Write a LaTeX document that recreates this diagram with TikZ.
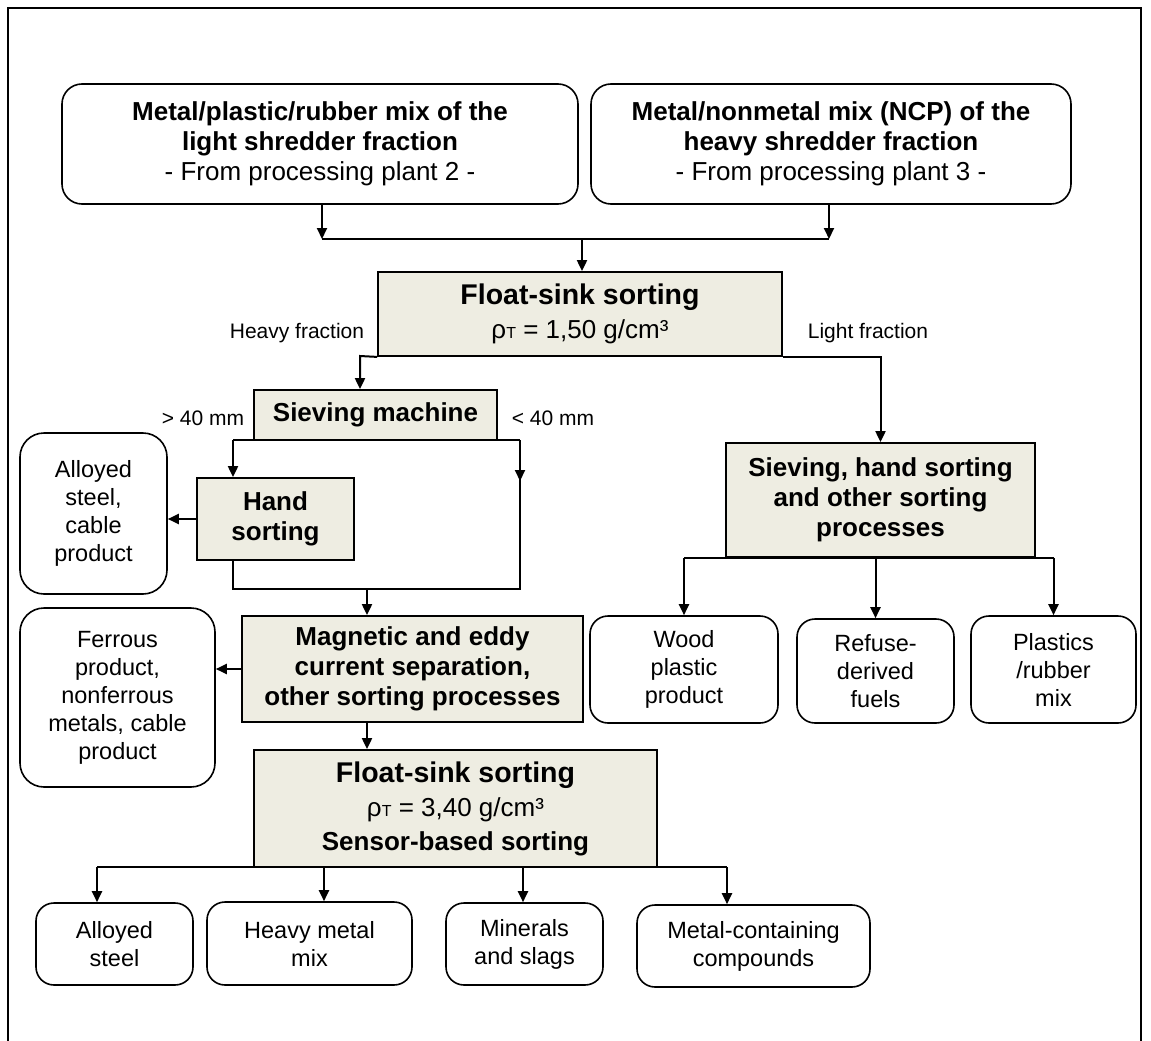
\documentclass[tikz,border=0pt]{standalone}
\usepackage{fontspec}
\setmainfont{Liberation Sans}
\usetikzlibrary{arrows.meta, positioning}

\definecolor{sortfill}{RGB}{238,237,226}

\tikzset{
  procbox/.style={draw=black, line width=1.8pt, fill=sortfill, align=center, inner sep=0pt, font=\fontsize{26}{30}\selectfont\bfseries},
  prodbox/.style={draw=black, line width=1.6pt, rounded corners=18pt, align=center, inner sep=0pt, font=\fontsize{23.5}{28}\selectfont},
  srcbox/.style={prodbox, rounded corners=20pt, font=\fontsize{26}{30}\selectfont},
  flowlabel/.style={font=\fontsize{21}{24}\selectfont, inner sep=0pt},
  flow/.style={line width=2pt, -{Triangle[length=11pt,width=10pt]}},
  flowline/.style={line width=2pt},
}
\newcommand{\rhoT}{ρ{\fontsize{16}{16}\selectfont T}}
\newcommand{\titlefont}{\fontsize{28.5}{34}\selectfont\bfseries}

\begin{document}
\begin{tikzpicture}[x=1pt, y=-1pt]
\useasboundingbox (0,0) rectangle (1151,1041);
\draw[line width=1.4pt] (8,1041) -- (8,8) -- (1141,8) -- (1141,1041);

% sources
\node[srcbox, minimum width=516pt, minimum height=120pt] (lightmix) at (320,144)
  {\textbf{Metal/plastic/rubber mix of the}\\\textbf{light shredder fraction}\\- From processing plant 2 -};
\node[srcbox, minimum width=480pt, minimum height=120pt] (heavymix) at (831,144)
  {\textbf{Metal/nonmetal mix (NCP) of the}\\\textbf{heavy shredder fraction}\\- From processing plant 3 -};

% processing steps
\node[procbox, minimum width=404pt, minimum height=84pt] (floatA) at (580,314)
  {{\titlefont Float-sink sorting}\\[4pt]{\mdseries\rhoT{} = 1,50 g/cm³}};
\node[procbox, minimum width=243pt, minimum height=50pt] (sieve) at (375.5,415) {Sieving machine};
\node[procbox, minimum width=157pt, minimum height=82pt] (hand) at (275.5,519) {Hand\\sorting};
\node[procbox, minimum width=341pt, minimum height=106pt] (magnet) at (412.5,669)
  {Magnetic and eddy\\current separation,\\other sorting processes};
\node[procbox, minimum width=403pt, minimum height=117pt] (floatB) at (455.5,808.5)
  {{\titlefont Float-sink sorting}\\[4pt]{\mdseries\rhoT{} = 3,40 g/cm³}\\[4pt]Sensor-based sorting};
\node[procbox, minimum width=309pt, minimum height=114pt] (sieveL) at (880.5,500)
  {Sieving, hand sorting\\and other sorting\\processes};

% products
\node[prodbox, minimum width=147pt, minimum height=161pt, rounded corners=24pt] (alloyA) at (93.5,513.5)
  {Alloyed\\steel,\\cable\\product};
\node[prodbox, minimum width=195pt, minimum height=179pt, rounded corners=24pt] (ferrous) at (117.5,697.5)
  {Ferrous\\product,\\nonferrous\\metals, cable\\product};
\node[prodbox, minimum width=157pt, minimum height=82pt] (alloyB) at (114.5,944) {Alloyed\\steel};
\node[prodbox, minimum width=205pt, minimum height=83pt] (hmetal) at (309.5,943.5) {Heavy metal\\mix};
\node[prodbox, minimum width=157pt, minimum height=82pt] (mineral) at (524.5,944) {Minerals\\and slags};
\node[prodbox, minimum width=233pt, minimum height=82pt] (compound) at (753.5,946) {Metal-containing\\compounds};
\node[prodbox, minimum width=188pt, minimum height=107pt] (wood) at (684,669.5) {Wood\\plastic\\product};
\node[prodbox, minimum width=157pt, minimum height=104pt] (rdf) at (875.5,671) {Refuse-\\derived\\fuels};
\node[prodbox, minimum width=165pt, minimum height=107pt] (plastic) at (1053.5,669.5) {Plastics\\/rubber\\mix};

% labels
\node[flowlabel] (lblheavy) at (297,333) {Heavy fraction};
\node[flowlabel] (lbllight) at (868,333) {Light fraction};
\node[flowlabel] (lblcoarse) at (203,418) {> 40 mm};
\node[flowlabel] (lblfine) at (553,418) {< 40 mm};

% junctions
\coordinate (jtop) at (582,239);
\coordinate (jheavy) at (360,356);
\coordinate (jsl) at (233,440);
\coordinate (jsr) at (520,440);
\coordinate (jmid) at (367,589);
\coordinate (jbl) at (97,867);
\coordinate (jbr) at (727,867);

% connectors
\draw[flow] (lightmix.south -| 322,0) -- (322,239);
\draw[flow] (heavymix.south -| 829,0) -- (829,239);
\draw[flowline] (322,239) -- (829,239);
\draw[flow] (jtop) -- (jtop |- floatA.north);

\draw[flow] (floatA.south west) -- (jheavy) -- (jheavy |- sieve.north);
\draw[flow] (floatA.south east) -| (sieveL.north);

\draw[flowline] (jsl) -- (jsr);
\draw[flow] (jsl) -- (jsl |- hand.north);
\draw[flow] (jsr) -- (520,481);
\draw[flowline] (520,478) -- (520,589) -- (jsl |- jmid) -- (jsl |- hand.south);
\draw[flow] (jmid) -- (jmid |- magnet.north);
\draw[flow] (hand.west) -- (hand.west -| alloyA.east);
\draw[flow] (magnet.west) -- (magnet.west -| ferrous.east);
\draw[flow] (jmid |- magnet.south) -- (jmid |- floatB.north);

\draw[flowline] (jbl) -- (jbr);
\draw[flow] (jbl) -- (jbl |- alloyB.north);
\draw[flow] (324,867) -- (324,0 |- hmetal.north);
\draw[flow] (523,867) -- (523,0 |- mineral.north);
\draw[flow] (jbr) -- (jbr |- compound.north);

\draw[flowline] (sieveL.south -| wood.north) -- (sieveL.south -| plastic.north);
\draw[flow] (sieveL.south -| wood.north) -- (wood.north);
\draw[flow] (sieveL.south -| rdf.north) -- (rdf.north);
\draw[flow] (sieveL.south -| plastic.north) -- (plastic.north);
\end{tikzpicture}
\end{document}
